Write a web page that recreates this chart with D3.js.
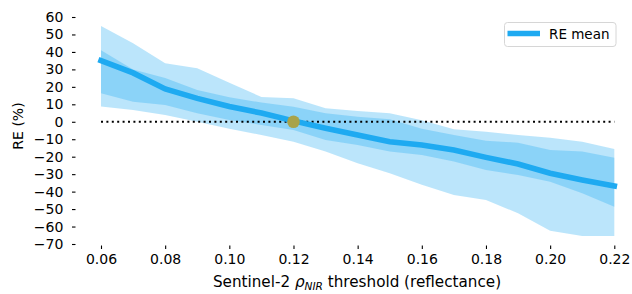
<!DOCTYPE html>
<html>
<head>
<meta charset="utf-8">
<script src="https://cdn.jsdelivr.net/npm/d3@7"></script>
<style>
  body { margin: 0; background: #fff; }
  svg { display: block; font-family: "DejaVu Sans", sans-serif; }
</style>
</head>
<body>
<div id="chart"></div>
<script>
// Threshold values (x axis)
var thresholds = [0.06, 0.07, 0.08, 0.09, 0.10, 0.11, 0.12, 0.13, 0.14, 0.15, 0.16, 0.17, 0.18, 0.19, 0.20, 0.21, 0.22];
// Mean relative error (%)
var meanRE = [35, 28, 18.8, 13.4, 8.7, 5, 0.5, -3.7, -7.6, -11.4, -13.3, -16.2, -20.4, -24.2, -29.5, -33.3, -36.8];
// Wide band (outer)
var outerHi = [54.9, 45, 33.5, 30.6, 22.4, 14.2, 13.4, 7.7, 6.2, 4.9, 0.8, -4.3, -5.7, -7.6, -9.1, -11.4, -15.6];
var outerLo = [8.7, 6.8, 3.9, 0, -4, -7.6, -11.4, -17, -23.8, -29.5, -36, -41.9, -44.8, -52.4, -62.4, -65.4, -65.4];
// Narrow band (inner)
var innerHi = [41, 30, 25, 18.2, 14, 11, 8.6, 4.9, 2.9, 1.4, -4, -7.6, -10.8, -12, -16.2, -17, -20.6];
var innerLo = [16.3, 11.5, 9.6, 4.9, 1, -1.8, -4.7, -10.4, -13.3, -17, -19, -22.8, -27.6, -30.5, -34.3, -41, -48.6];
// Tick values
var xTicks = [0.06, 0.08, 0.10, 0.12, 0.14, 0.16, 0.18, 0.20, 0.22];
var yTicks = [60, 50, 40, 30, 20, 10, 0, -10, -20, -30, -40, -50, -60, -70];
// Highlighted point
var optThreshold = 0.12;
var optRE = 0;

var svgWidth = 632;
var svgHeight = 294;
var lineColor = "#1eaaf1";
var fontSize = "14px";

var svg = d3.select("#chart")
  .append("svg")
  .attr("width", svgWidth)
  .attr("height", svgHeight);

var x = d3.scaleLinear().domain([0.06, 0.22]).range([101, 614.3]);
var y = d3.scaleLinear().domain([-70, 60]).range([244, 17]);

var rows = thresholds.map(function(t, i) {
  return { t: t, m: meanRE[i], oh: outerHi[i], ol: outerLo[i], ih: innerHi[i], il: innerLo[i] };
});

// bands
var outerArea = d3.area().x(d => x(d.t)).y0(d => y(d.ol)).y1(d => y(d.oh));
var innerArea = d3.area().x(d => x(d.t)).y0(d => y(d.il)).y1(d => y(d.ih));

svg.append("path").datum(rows)
  .attr("d", outerArea)
  .attr("fill", lineColor)
  .attr("fill-opacity", 0.3);

svg.append("path").datum(rows)
  .attr("d", innerArea)
  .attr("fill", lineColor)
  .attr("fill-opacity", 0.3);

// zero reference line
svg.append("line")
  .attr("x1", x(0.06)).attr("x2", x(0.22))
  .attr("y1", y(0)).attr("y2", y(0))
  .attr("stroke", "#000")
  .attr("stroke-width", 2)
  .attr("stroke-dasharray", "2,3.4");

// mean line
var meanLine = d3.line().x(d => x(d.t)).y(d => y(d.m));
svg.append("path").datum(rows)
  .attr("d", meanLine)
  .attr("fill", "none")
  .attr("stroke", lineColor)
  .attr("stroke-width", 5.6)
  .attr("stroke-linecap", "square");

// optimum point
svg.append("circle")
  .attr("cx", x(optThreshold))
  .attr("cy", y(optRE))
  .attr("r", 6.3)
  .attr("fill", "#a8a34a");

// axes (no domain lines)
var xAxis = d3.axisBottom(x)
  .tickValues(xTicks)
  .tickFormat(d3.format(".2f"))
  .tickSize(3.5)
  .tickPadding(5);

var gx = svg.append("g")
  .attr("transform", "translate(0,245.5)")
  .call(xAxis);

var yAxis = d3.axisLeft(y)
  .tickValues(yTicks)
  .tickFormat(d => d < 0 ? "\u2212" + Math.abs(d) : d)
  .tickSize(3.5)
  .tickPadding(8.7);

var gy = svg.append("g")
  .attr("transform", "translate(75.5,0)")
  .call(yAxis);

[gx, gy].forEach(function(g) {
  g.select(".domain").remove();
  g.attr("font-family", "DejaVu Sans");
  g.selectAll(".tick line").attr("stroke", "#000").attr("stroke-width", 1.1);
  g.selectAll(".tick text")
    .attr("fill", "#000")
    .style("font-size", fontSize)
    .style("font-family", "DejaVu Sans");
});

// axis titles
svg.append("text")
  .attr("transform", "translate(23,126) rotate(-90)")
  .attr("text-anchor", "middle")
  .style("font-size", fontSize)
  .text("RE (%)");

var xt = svg.append("text")
  .attr("x", 357)
  .attr("y", 287)
  .attr("text-anchor", "middle")
  .style("font-size", "15.2px");
xt.append("tspan").text("Sentinel-2 ");
xt.append("tspan").style("font-style", "italic").text("\u03c1");
xt.append("tspan").style("font-style", "italic").style("font-size", "10.6px").attr("dy", 2.8).text("NIR");
xt.append("tspan").attr("dy", -2.8).text(" threshold (reflectance)");

// legend
var legend = svg.append("g");
legend.append("rect")
  .attr("x", 504.5).attr("y", 22.5)
  .attr("width", 111.5).attr("height", 24)
  .attr("rx", 3)
  .attr("fill", "#fff")
  .attr("fill-opacity", 0.8)
  .attr("stroke", "#d6d6d6");
legend.append("line")
  .attr("x1", 507.5).attr("x2", 540)
  .attr("y1", 33.5).attr("y2", 33.5)
  .attr("stroke", lineColor)
  .attr("stroke-width", 5.6);
legend.append("text")
  .attr("x", 549)
  .attr("y", 38.5)
  .style("font-size", "13.5px")
  .text("RE mean");
</script>
</body>
</html>
